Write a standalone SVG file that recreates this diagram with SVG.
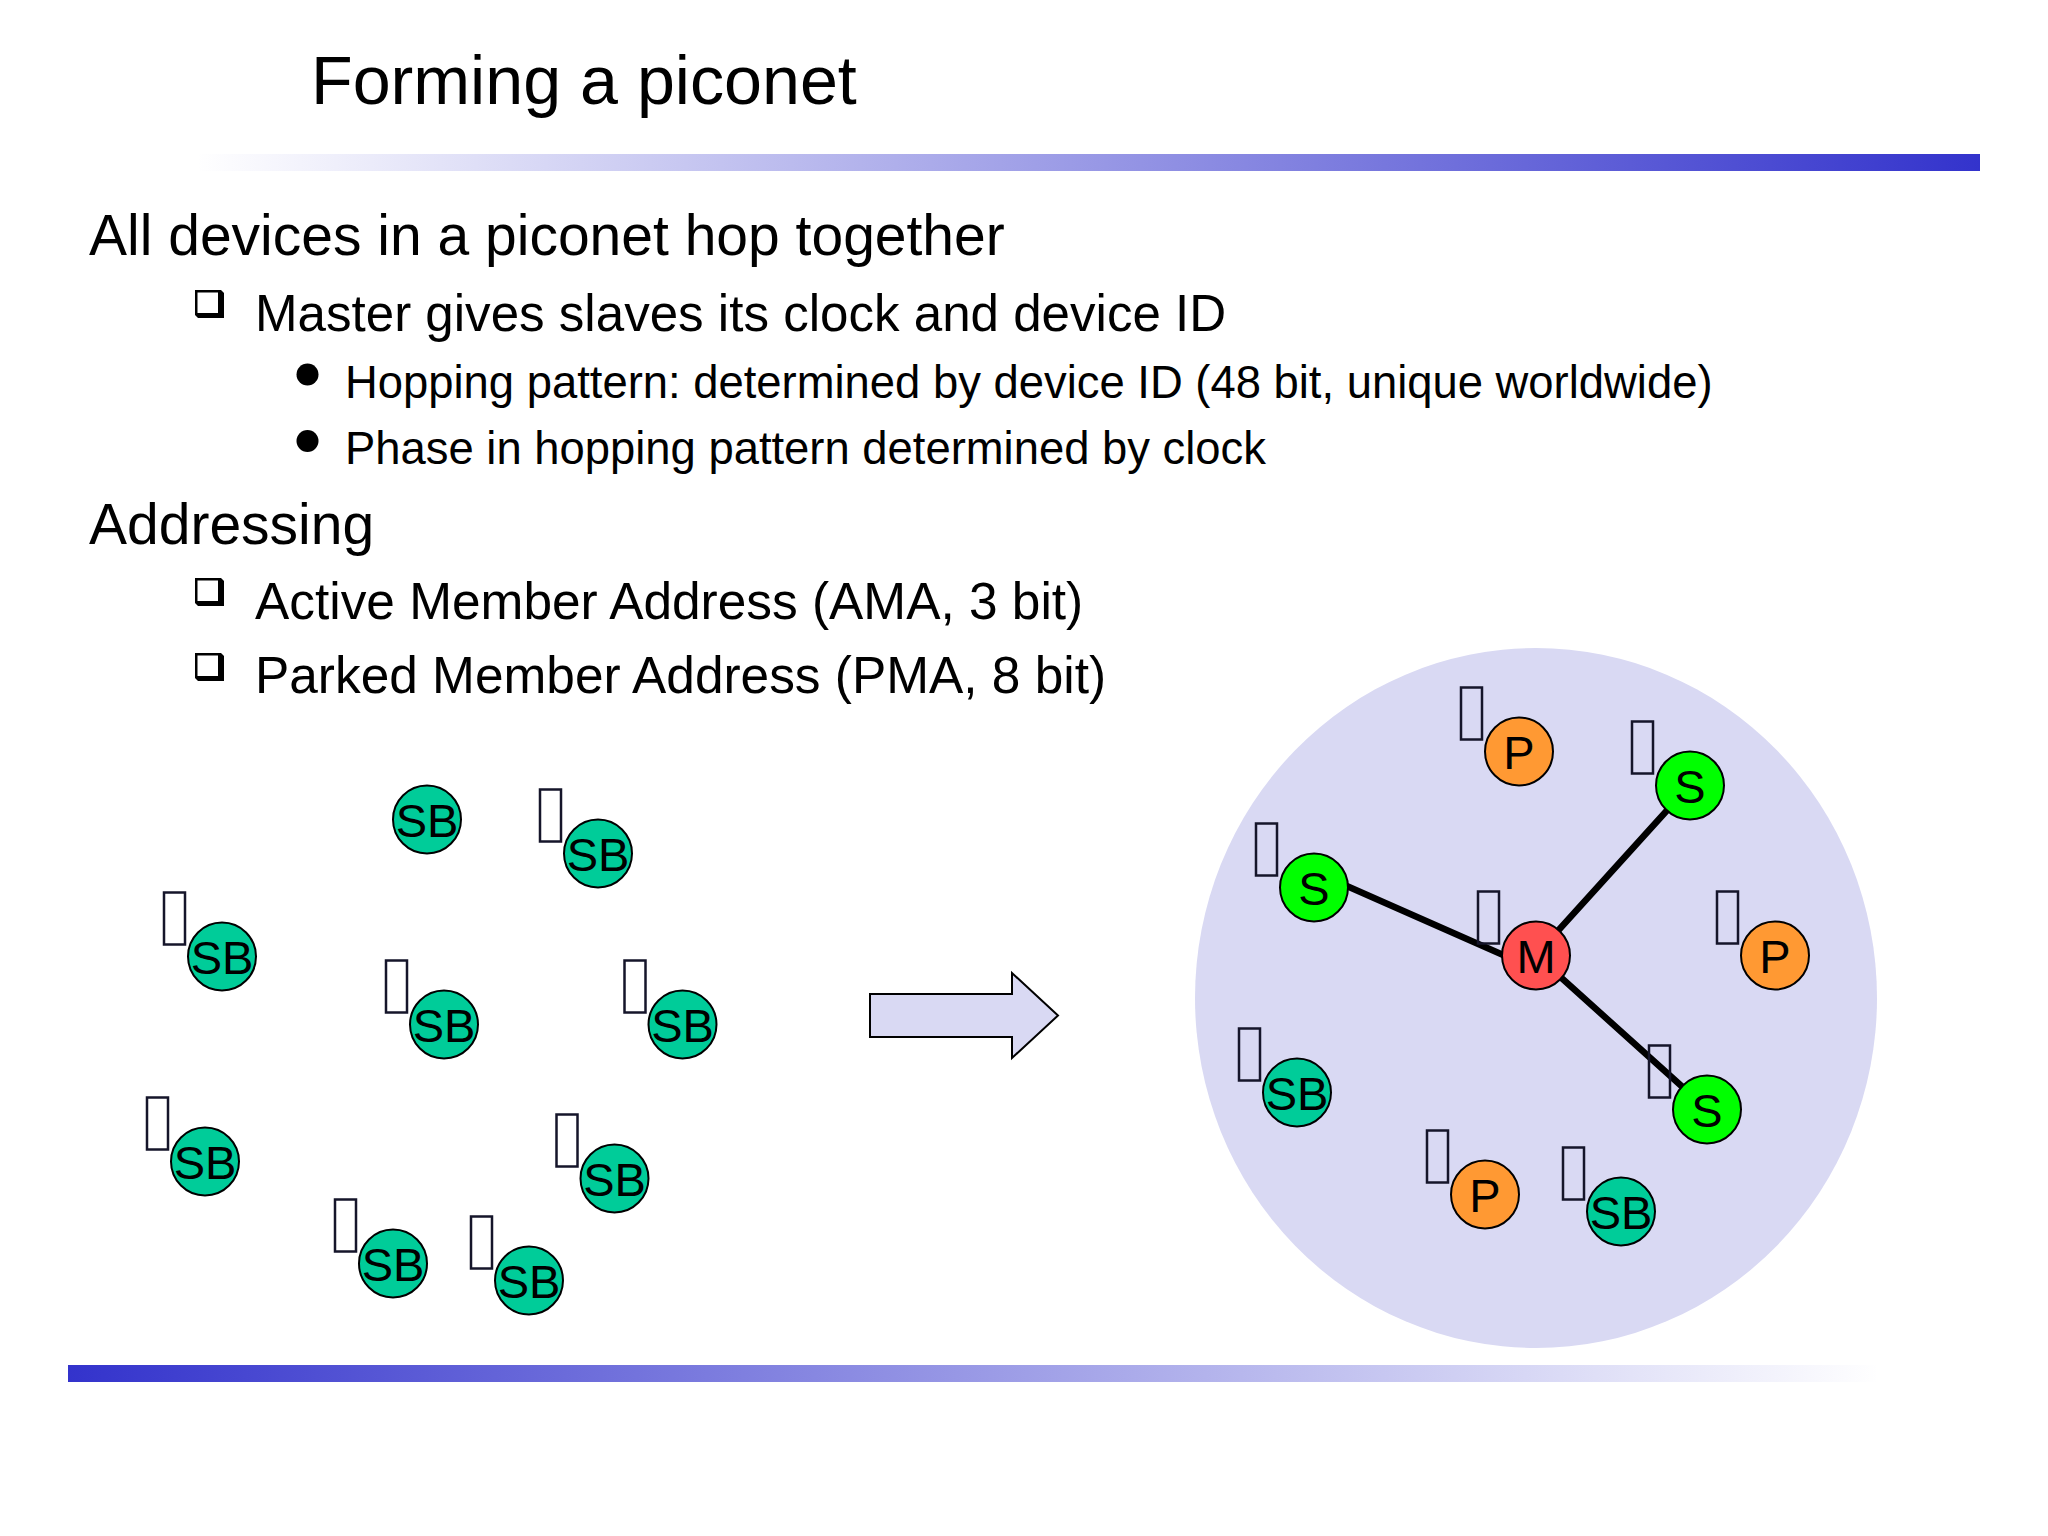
<svg xmlns="http://www.w3.org/2000/svg" width="2048" height="1536" viewBox="0 0 2048 1536">
<style>
text{font-family:"Liberation Sans",Arial,sans-serif;fill:#000}
.t{font-size:68.200px}.l1{font-size:57px}.l2{font-size:51.400px}.l3{font-size:45.400px}
.n{stroke:#000;stroke-width:2}
.sb{fill:#00cc99}.s{fill:#00ff00}.p{fill:#ff9933}.m{fill:#ff5050}
.lb{font-size:47px;text-anchor:middle}
.tofu{fill:none;stroke:#15152a;stroke-width:2.500}
.c{stroke:#000;stroke-width:6.500;fill:none}
</style>
<defs>
<linearGradient id="g1" x1="0" x2="1" y1="0" y2="0"><stop offset="0" stop-color="#3333cc" stop-opacity="0"/><stop offset="1" stop-color="#3333cc"/></linearGradient>
<linearGradient id="g2" x1="0" x2="1" y1="0" y2="0"><stop offset="0" stop-color="#3333cc"/><stop offset="1" stop-color="#3333cc" stop-opacity="0"/></linearGradient>
<g id="bx"><rect class="tofu" x="-58" y="-64" width="21" height="52"/></g>
<g id="sq"><path d="M-2-1H24L27 2V27H1L-2 24Z" fill="#000"/><rect x="0.500" y="1.500" width="20.500" height="20.500" fill="#fff"/></g>
</defs>
<rect width="2048" height="1536" fill="#fff"/>
<rect x="196" y="154" width="1784" height="17" fill="url(#g1)"/>
<rect x="68" y="1365" width="1812" height="17" fill="url(#g2)"/>
<text class="t" x="311" y="104">Forming a piconet</text>
<text class="l1" x="89" y="255">All devices in a piconet hop together</text>
<use href="#sq" x="197" y="291"/>
<text class="l2" x="255" y="331" style="font-size:51.100px">Master gives slaves its clock and device ID</text>
<circle cx="307.500" cy="374.500" r="11"/>
<text class="l3" x="345" y="397.500">Hopping pattern: determined by device ID (48 bit, unique worldwide)</text>
<circle cx="307.500" cy="441" r="11"/>
<text class="l3" x="345" y="463.500">Phase in hopping pattern determined by clock</text>
<text class="l1" x="89" y="543.500">Addressing</text>
<use href="#sq" x="197" y="579"/>
<text class="l2" x="255" y="619">Active Member Address (AMA, 3 bit)</text>
<use href="#sq" x="197" y="654"/>
<text class="l2" x="255" y="693">Parked Member Address (PMA, 8 bit)</text>
<ellipse id="piconet" cx="1536" cy="998" rx="341" ry="350" fill="#d9d9f3"/>
<path id="arrow" d="M870 994H1012V973L1058 1015.500L1012 1058V1037H870Z" fill="#d9d9f3" stroke="#000" stroke-width="2"/>
<g id="connectors">
<path class="c" d="M1340 883L1510 958M1690 785L1536 955L1707 1109"/>
</g>
<g id="n1"><circle class="n sb" cx="427" cy="819.500" r="34"/><text class="lb" x="427" y="837">SB</text></g>
<g id="n2"><use href="#bx" x="598" y="853.500"/><circle class="n sb" cx="598" cy="853.500" r="34"/><text class="lb" x="598" y="871">SB</text></g>
<g id="n3"><use href="#bx" x="222" y="956.500"/><circle class="n sb" cx="222" cy="956.500" r="34"/><text class="lb" x="222" y="974">SB</text></g>
<g id="n4"><use href="#bx" x="444" y="1024.500"/><circle class="n sb" cx="444" cy="1024.500" r="34"/><text class="lb" x="444" y="1042">SB</text></g>
<g id="n5"><use href="#bx" x="682.500" y="1024.500"/><circle class="n sb" cx="682.500" cy="1024.500" r="34"/><text class="lb" x="682.500" y="1042">SB</text></g>
<g id="n6"><use href="#bx" x="205" y="1161.500"/><circle class="n sb" cx="205" cy="1161.500" r="34"/><text class="lb" x="205" y="1179">SB</text></g>
<g id="n7"><use href="#bx" x="614.500" y="1178.500"/><circle class="n sb" cx="614.500" cy="1178.500" r="34"/><text class="lb" x="614.500" y="1196">SB</text></g>
<g id="n8"><use href="#bx" x="393" y="1263.500"/><circle class="n sb" cx="393" cy="1263.500" r="34"/><text class="lb" x="393" y="1281">SB</text></g>
<g id="n9"><use href="#bx" x="529" y="1280.500"/><circle class="n sb" cx="529" cy="1280.500" r="34"/><text class="lb" x="529" y="1298">SB</text></g>
<g id="p1"><use href="#bx" x="1519" y="751.500"/><circle class="n p" cx="1519" cy="751.500" r="34"/><text class="lb" x="1519" y="769">P</text></g>
<g id="s1"><use href="#bx" x="1690" y="785.500"/><circle class="n s" cx="1690" cy="785.500" r="34"/><text class="lb" x="1690" y="803">S</text></g>
<g id="s2"><use href="#bx" x="1314" y="887.500"/><circle class="n s" cx="1314" cy="887.500" r="34"/><text class="lb" x="1314" y="905">S</text></g>
<g id="m"><use href="#bx" x="1536" y="955.500"/><circle class="n m" cx="1536" cy="955.500" r="34"/><text class="lb" x="1536" y="973">M</text></g>
<g id="p2"><use href="#bx" x="1775" y="955.500"/><circle class="n p" cx="1775" cy="955.500" r="34"/><text class="lb" x="1775" y="973">P</text></g>
<g id="sb10"><use href="#bx" x="1297" y="1092.500"/><circle class="n sb" cx="1297" cy="1092.500" r="34"/><text class="lb" x="1297" y="1110">SB</text></g>
<g id="s3"><use href="#bx" x="1707" y="1109.500"/><circle class="n s" cx="1707" cy="1109.500" r="34"/><text class="lb" x="1707" y="1127">S</text></g>
<g id="p3"><use href="#bx" x="1485" y="1194.500"/><circle class="n p" cx="1485" cy="1194.500" r="34"/><text class="lb" x="1485" y="1212">P</text></g>
<g id="sb11"><use href="#bx" x="1621" y="1211.500"/><circle class="n sb" cx="1621" cy="1211.500" r="34"/><text class="lb" x="1621" y="1229">SB</text></g>
</svg>
